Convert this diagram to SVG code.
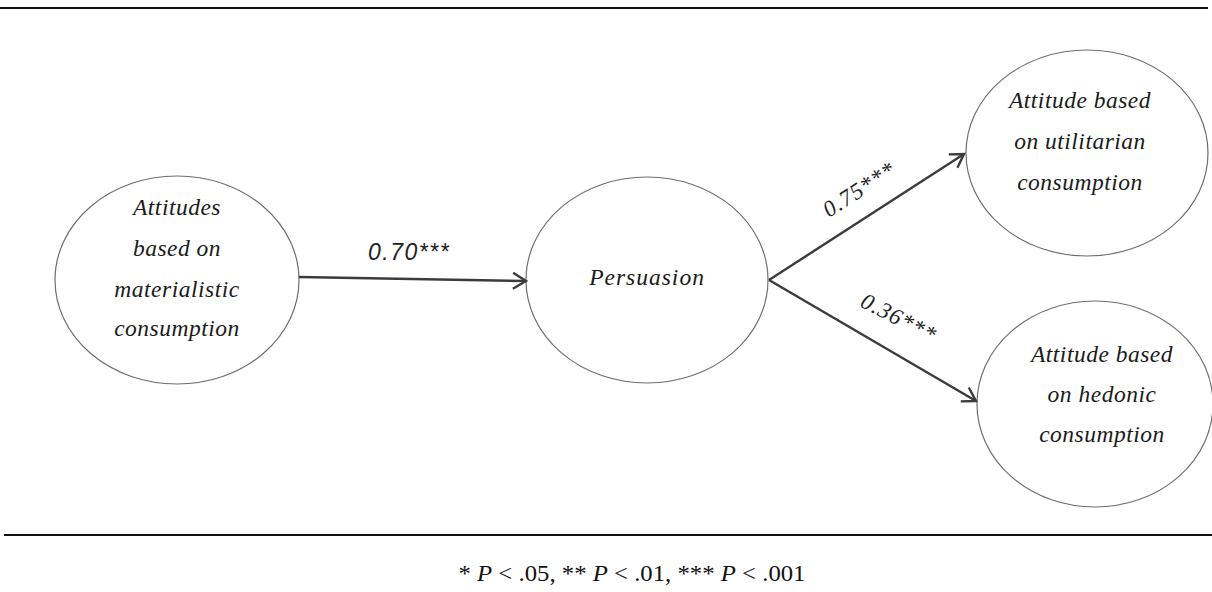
<svg xmlns="http://www.w3.org/2000/svg" width="1212" height="592" viewBox="0 0 1212 592">
<style>
.node ellipse{fill:#fff;stroke:#6e6e6e;stroke-width:1.2}
.nl{font-family:"Liberation Serif",serif;font-style:italic;font-size:23.5px;letter-spacing:0.5px;fill:#1a1a1a;text-anchor:middle}
.edge{stroke:#3c3c3c;stroke-width:2.4;fill:none}
.el{font-family:"Liberation Serif",serif;font-style:italic;font-size:23px;fill:#222;letter-spacing:1px}
.rule{stroke:#111;stroke-width:2}
</style>
<defs>
<marker id="arr" markerUnits="userSpaceOnUse" markerWidth="18" markerHeight="20" refX="14" refY="9" orient="auto">
<path d="M1,1 L14,9 L1,17" fill="none" stroke="#3c3c3c" stroke-width="2.4"/>
</marker>
</defs>
<line class="rule" x1="0" y1="8" x2="1208" y2="8"/>
<line class="rule" x1="4" y1="535" x2="1212" y2="535"/>
<g id="n1" class="node">
<ellipse cx="177" cy="280" rx="122" ry="104"/>
<text class="nl" x="177" y="215">Attitudes</text>
<text class="nl" x="177" y="256">based on</text>
<text class="nl" x="177" y="297">materialistic</text>
<text class="nl" x="177" y="336">consumption</text>
</g>
<g id="n2" class="node">
<ellipse cx="647" cy="280" rx="121" ry="103"/>
<text class="nl" x="647" y="285" style="letter-spacing:1px">Persuasion</text>
</g>
<g id="n3" class="node">
<ellipse cx="1087" cy="153" rx="121" ry="103"/>
<text class="nl" x="1080" y="108">Attitude based</text>
<text class="nl" x="1080" y="149">on utilitarian</text>
<text class="nl" x="1080" y="190">consumption</text>
</g>
<g id="n4" class="node">
<ellipse cx="1095" cy="404" rx="118" ry="103"/>
<text class="nl" x="1102" y="362">Attitude based</text>
<text class="nl" x="1102" y="402">on hedonic</text>
<text class="nl" x="1102" y="442">consumption</text>
</g>
<g id="connectors">
<line class="edge" x1="299" y1="277" x2="526" y2="281" marker-end="url(#arr)"/>
<line class="edge" x1="769" y1="280" x2="964" y2="154" marker-end="url(#arr)"/>
<line class="edge" x1="769" y1="280" x2="976" y2="401" marker-end="url(#arr)"/>
<text x="368" y="260" style="font-family:'Liberation Sans',sans-serif;font-style:italic;font-size:23px;fill:#222;letter-spacing:1.5px">0.70***</text>
<text class="el" transform="translate(829,218) rotate(-33)">0.75***</text>
<text class="el" transform="translate(859,306) rotate(27)">0.36***</text>
</g>
<text x="632" y="581" text-anchor="middle" textLength="347" lengthAdjust="spacingAndGlyphs" style="font-family:'Liberation Serif',serif;font-size:23px;fill:#111">* <tspan font-style="italic">P</tspan> &lt; .05, ** <tspan font-style="italic">P</tspan> &lt; .01, *** <tspan font-style="italic">P</tspan> &lt; .001</text>
</svg>
